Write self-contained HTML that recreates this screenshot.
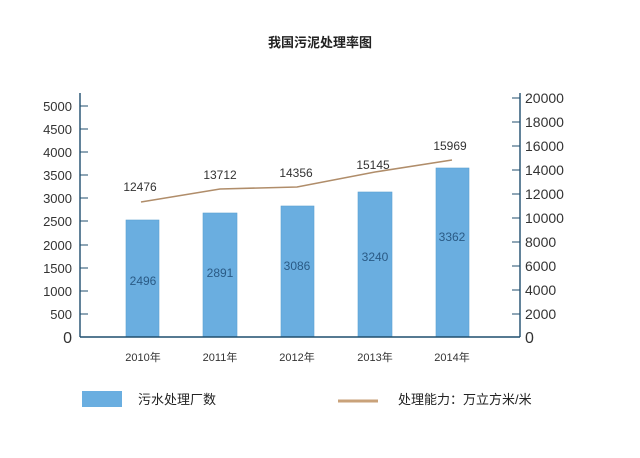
<!DOCTYPE html>
<html><head><meta charset="utf-8"><style>
body{margin:0;background:#fff;}
svg text{font-family:"Liberation Sans","Noto Sans CJK SC",sans-serif;}
</style></head><body>
<svg width="640" height="453" viewBox="0 0 640 453" xmlns="http://www.w3.org/2000/svg">
<rect width="640" height="453" fill="#fff"/>
<text x="320" y="47" text-anchor="middle" font-size="13" font-weight="bold" fill="#222">我国污泥处理率图</text>
<!-- bars -->
<g fill="#6aaee0" stroke="#5a9ed0" stroke-width="0.6">
<rect x="126" y="220" width="33" height="117"/>
<rect x="203" y="213" width="34" height="124"/>
<rect x="281" y="206" width="33" height="131"/>
<rect x="358" y="192" width="34" height="145"/>
<rect x="436" y="168" width="33" height="169"/>
</g>
<g font-size="12" fill="#2a5a85" text-anchor="middle">
<text x="143" y="285">2496</text><text x="220" y="277">2891</text><text x="297" y="270">3086</text><text x="375" y="261">3240</text><text x="452" y="241">3362</text>
</g>
<!-- axes -->
<g stroke="#1f4e6e" stroke-width="1.4" fill="none">
<line x1="80" y1="93" x2="80" y2="337"/>
<line x1="80" y1="337" x2="520" y2="337"/>
<line x1="520" y1="93" x2="520" y2="337"/>
</g>
<g stroke="#1f4e6e" stroke-width="1">
<line x1="80" x2="88" y1="106" y2="106"/><line x1="80" x2="88" y1="129" y2="129"/><line x1="80" x2="88" y1="152" y2="152"/><line x1="80" x2="88" y1="175" y2="175"/><line x1="80" x2="88" y1="198" y2="198"/><line x1="80" x2="88" y1="221" y2="221"/><line x1="80" x2="88" y1="245" y2="245"/><line x1="80" x2="88" y1="268" y2="268"/><line x1="80" x2="88" y1="291" y2="291"/><line x1="80" x2="88" y1="314" y2="314"/>
<line x1="512" x2="520" y1="98" y2="98"/><line x1="512" x2="520" y1="122" y2="122"/><line x1="512" x2="520" y1="146" y2="146"/><line x1="512" x2="520" y1="170" y2="170"/><line x1="512" x2="520" y1="194" y2="194"/><line x1="512" x2="520" y1="218" y2="218"/><line x1="512" x2="520" y1="242" y2="242"/><line x1="512" x2="520" y1="266" y2="266"/><line x1="512" x2="520" y1="290" y2="290"/><line x1="512" x2="520" y1="314" y2="314"/>
</g>
<g font-size="13" fill="#333" text-anchor="end">
<text x="72" y="111">5000</text><text x="72" y="134">4500</text><text x="72" y="157">4000</text><text x="72" y="180">3500</text><text x="72" y="203">3000</text><text x="72" y="226">2500</text><text x="72" y="250">2000</text><text x="72" y="273">1500</text><text x="72" y="296">1000</text><text x="72" y="319">500</text><text x="72" y="343" font-size="16">0</text>
</g>
<g font-size="14" fill="#333">
<text x="525" y="103">20000</text><text x="525" y="127">18000</text><text x="525" y="151">16000</text><text x="525" y="175">14000</text><text x="525" y="199">12000</text><text x="525" y="223">10000</text><text x="525" y="247">8000</text><text x="525" y="271">6000</text><text x="525" y="295">4000</text><text x="525" y="319">2000</text><text x="525" y="343" font-size="16">0</text>
</g>
<g font-size="11" fill="#333" text-anchor="middle">
<text x="143" y="361">2010年</text><text x="220" y="361">2011年</text><text x="297" y="361">2012年</text><text x="375" y="361">2013年</text><text x="452" y="361">2014年</text>
</g>
<polyline points="141,202 220,189 297,187 375,172 452,160" fill="none" stroke="#b08d6a" stroke-width="1.6"/>
<g font-size="12" fill="#333" text-anchor="middle">
<text x="140" y="191">12476</text><text x="220" y="179">13712</text><text x="296" y="177">14356</text><text x="373" y="169">15145</text><text x="450" y="150">15969</text>
</g>
<rect x="82" y="391" width="40" height="16" fill="#6aaee0"/>
<text x="138" y="404" font-size="13" fill="#222">污水处理厂数</text>
<line x1="338" y1="401" x2="378" y2="401" stroke="#c9a27a" stroke-width="3"/>
<text x="398" y="404" font-size="13" fill="#222">处理能力：万立方米/米</text>
</svg>
</body></html>
